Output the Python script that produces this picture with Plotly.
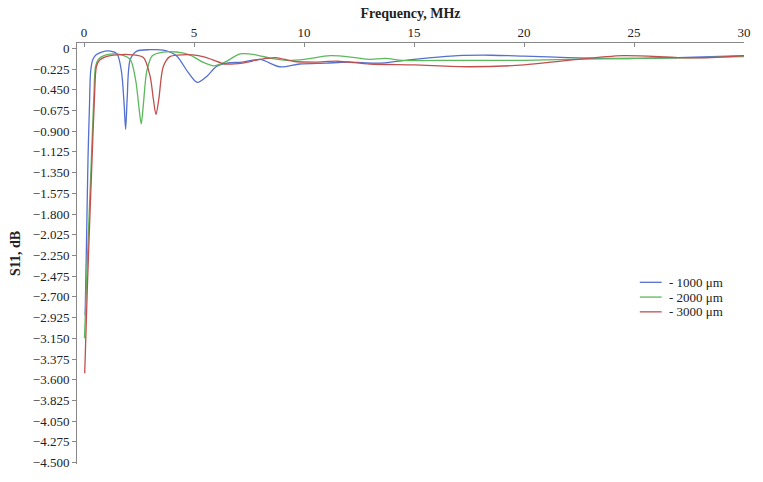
import plotly.graph_objects as go

# Frequency (MHz) and S11 (dB)
freq_1000 = [0.05, 0.12, 0.18, 0.25, 0.3, 0.4, 0.55, 0.8, 1.2, 1.5, 1.7, 1.82, 1.89, 1.96, 2.1, 2.4, 3.0,
             3.6, 4.2, 4.7, 5.14, 5.6, 6.0, 6.5, 7.2, 8.0, 8.9, 9.8, 11, 12, 13.5, 15, 17, 18.5, 20, 22, 25, 27, 30]
s11_1000 = [-2.9, -2.0, -1.2, -0.6, -0.25, -0.12, -0.07, -0.04, -0.03, -0.06, -0.25, -0.6, -0.88, -0.55, -0.12,
            -0.03, -0.015, -0.02, -0.08, -0.25, -0.37, -0.3, -0.2, -0.16, -0.15, -0.12, -0.2, -0.17, -0.16, -0.15,
            -0.16, -0.12, -0.08, -0.075, -0.085, -0.1, -0.11, -0.1, -0.08]

freq_2000 = [0.02, 0.15, 0.35, 0.45, 0.52, 0.65, 0.9, 1.3, 1.7, 2.1, 2.35, 2.5, 2.6, 2.7, 2.85, 3.1, 3.6, 4.2,
             4.8, 5.4, 5.9, 6.4, 7.1, 7.8, 8.5, 9.2, 10, 11.2, 12.3, 13, 13.7, 14.5, 17, 20, 22, 25, 28, 30]
s11_2000 = [-3.15, -2.3, -1.1, -0.5, -0.2, -0.12, -0.08, -0.06, -0.07, -0.12, -0.35, -0.65, -0.82, -0.6, -0.25,
            -0.08, -0.04, -0.04, -0.07, -0.15, -0.19, -0.15, -0.06, -0.07, -0.11, -0.13, -0.12, -0.08, -0.1, -0.12,
            -0.11, -0.13, -0.13, -0.13, -0.12, -0.11, -0.1, -0.09]

freq_3000 = [0.03, 0.15, 0.38, 0.48, 0.56, 0.7, 1.0, 1.5, 2.2, 2.7, 3.0, 3.15, 3.27, 3.4, 3.6, 3.9, 4.5, 5.2,
             5.8, 6.4, 7.2, 8.0, 8.7, 9.5, 10.5, 11.5, 13, 15, 17.5, 20, 22, 24.5, 27, 28.5, 30]
s11_3000 = [-3.53, -2.6, -1.1, -0.5, -0.2, -0.13, -0.09, -0.07, -0.07, -0.1, -0.3, -0.55, -0.72, -0.55, -0.2,
            -0.09, -0.07, -0.08, -0.12, -0.17, -0.16, -0.12, -0.1, -0.14, -0.15, -0.14, -0.17, -0.18, -0.2, -0.18,
            -0.13, -0.08, -0.1, -0.1, -0.08]

series_names = ["- 1000 μm", "- 2000 μm", "- 3000 μm"]
series_colors = ["#5470d0", "#5cb85c", "#c0504d"]

x_ticks = [0, 5, 10, 15, 20, 25, 30]
y_ticks = [-0.225 * i for i in range(21)]
y_ticktext = ["0"] + ["\u2212%.3f" % (0.225 * i) for i in range(1, 21)]

FONT = "Liberation Serif, DejaVu Serif, serif"

fig = go.Figure()
for xs, ys, name, col in zip([freq_1000, freq_2000, freq_3000], [s11_1000, s11_2000, s11_3000],
                             series_names, series_colors):
    fig.add_trace(go.Scatter(x=xs, y=ys, mode="lines", name=name, showlegend=False,
                             line=dict(color=col, width=1.3, shape="spline", smoothing=0.8)))

# Hand-drawn legend (compact spacing as in the reference)
leg_x0, leg_x1, leg_tx = 0.8438, 0.8765, 0.885
leg_y0, leg_dy = 0.4316, 0.0351
for i, (name, col) in enumerate(zip(series_names, series_colors)):
    yy = leg_y0 - i * leg_dy
    fig.add_shape(type="line", xref="paper", yref="paper", x0=leg_x0, x1=leg_x1, y0=yy, y1=yy,
                  line=dict(color=col, width=1.3))
    fig.add_annotation(xref="paper", yref="paper", x=leg_tx, y=yy, text=name, showarrow=False,
                       xanchor="left", yanchor="middle", font=dict(family=FONT, size=13, color="#222"))

fig.update_layout(
    width=763, height=482,
    margin=dict(l=77, r=14, t=43, b=12),
    paper_bgcolor="white", plot_bgcolor="white",
    font=dict(family=FONT, size=13, color="#222"),
    xaxis=dict(side="top", range=[-0.32, 30], tickvals=x_ticks, ticks="inside", ticklen=4,
               tickcolor="#888", showline=True, linecolor="#888", linewidth=1, showgrid=False,
               zeroline=False, tickfont=dict(size=13),
               title=dict(text="<b>Frequency, MHz</b>", font=dict(size=14), standoff=2)),
    yaxis=dict(range=[-4.515, 0.058], tickvals=y_ticks, ticktext=y_ticktext, ticks="outside", ticklen=4,
               tickcolor="#888", showline=True, linecolor="#888", linewidth=1, showgrid=False,
               zeroline=False, tickfont=dict(size=13),
               title=dict(text="<b>S11, dB</b>", font=dict(size=14), standoff=8)),
)

fig.write_html("out.html")
